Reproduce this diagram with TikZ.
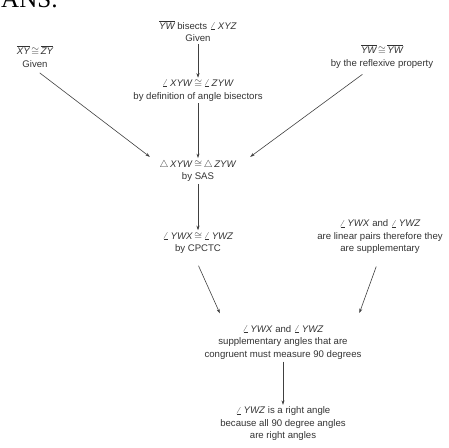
\documentclass[tikz,border=0pt]{standalone}
\usepackage{fontspec}
\setmainfont{Liberation Sans}
\newfontfamily\ansfont{Liberation Serif}
\usetikzlibrary{arrows.meta}

% --- Shorthands for the proof statements ---
\newcommand{\myseg}[1]{$\overline{\textit{#1}}$}
\newcommand{\myang}[1]{$\angle$\,\textit{#1}}
\newcommand{\mytri}[1]{$\triangle$\,\textit{#1}}
\newcommand{\mycong}{\,$\cong$\,}

\begin{document}
\begin{tikzpicture}[
    x=1pt, % one unit is one pixel of the reference
    y=-1pt, % y runs downwards, as in the reference
    every node/.style={font=\fontsize{9.6}{12.5}\selectfont, align=center,
                       text=black!80, inner sep=2pt},
    arr/.style={-{Stealth[length=4.5pt,width=3pt]}, black!75, line width=0.6pt}
    ]

\useasboundingbox (0,0) rectangle (449,447);

% --- Heading (cut off at the top) ---
\node[font=\ansfont\fontsize{25}{25}\selectfont, anchor=base west, inner sep=0pt,
      text=black] (ans) at (1,8) {ANS:};

% --- Place the statements ---
\node (bisect) at (198,31) {\myseg{YW} bisects \myang{XYZ}\\Given};
\node (xy) at (35,56.5) {\myseg{XY}\mycong\myseg{ZY}\\Given};
\node (yw) at (382,56.5) {\myseg{YW}\mycong\myseg{YW}\\by the reflexive property};
\node (angbis) at (198,90.5) {\myang{XYW}\mycong\myang{ZYW}\\by definition of angle bisectors};
\node (sas) at (198,171) {\mytri{XYW}\mycong\mytri{ZYW}\\by SAS};
\node (cpctc) at (198,243) {\myang{YWX}\mycong\myang{YWZ}\\by CPCTC};
\node (linpair) at (380,237) {\myang{YWX} and \myang{YWZ}\\are linear pairs therefore they\\are supplementary};
\node (suppl) at (283,342.5) {\myang{YWX} and \myang{YWZ}\\supplementary angles that are\\congruent must measure 90 degrees};
\node (right) at (283,424) {\myang{YWZ} is a right angle\\because all 90 degree angles\\are right angles};

% --- Draw the reasoning arrows ---
\draw[arr] (bisect) -- (angbis);
\draw[arr, shorten <=6pt, shorten >=2pt] (xy.south) -- ([xshift=-6pt]sas.north west);
\draw[arr, shorten <=7pt, shorten >=2pt] ([xshift=-14pt]yw.south) -- ([xshift=10pt]sas.north east);
\draw[arr] (angbis) -- (sas);
\draw[arr] (sas) -- (cpctc);
\draw[arr, shorten <=11pt, shorten >=11pt] ([xshift=-4pt]cpctc.south) -- ([xshift=22pt]suppl.north west);
\draw[arr, shorten <=11pt, shorten >=11pt] (linpair.south) -- ([xshift=-8pt]suppl.north east);
\draw[arr] (suppl) -- (right);

\end{tikzpicture}
\end{document}
